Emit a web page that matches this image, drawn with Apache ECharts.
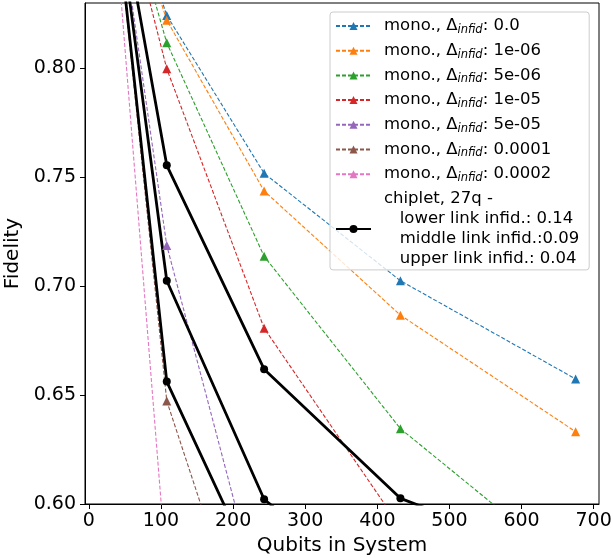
<!DOCTYPE html>
<html>
<head>
<meta charset="utf-8">
<script src="https://cdn.jsdelivr.net/npm/echarts@6/dist/echarts.min.js"></script>
<style>
html,body{margin:0;padding:0;background:#fff;}
#chart{width:613px;height:558px;}
</style>
</head>
<body>
<div id="chart"></div>
<script>
// ---- data ----
const qubits = [27, 108, 243, 432, 675];
const xTicks = [0, 100, 200, 300, 400, 500, 600, 700];
const yTicks = [0.60, 0.65, 0.70, 0.75, 0.80];
const monoLabels = ['0.0', '1e-06', '5e-06', '1e-05', '5e-05', '0.0001', '0.0002'];
const mono00     = [0.905, 0.8243, 0.7518, 0.7025, 0.6574];
const mono1e6    = [0.905, 0.8221, 0.7437, 0.6867, 0.6332];
const mono5e6    = [0.905, 0.8117, 0.7137, 0.6346, 0.569];
const mono1e5    = [0.905, 0.7998, 0.6807, 0.5894, null];
const mono5e5    = [0.905, 0.7187, 0.549, null, null];
const mono1e4    = [0.905, 0.6473, 0.5115, null, null];
const mono2e4    = [0.905, 0.568, null, null, null];
const chipletA   = [0.905, 0.7555, 0.6619, 0.6026, 0.572];
const chipletB   = [0.905, 0.7025, 0.6022, 0.5506, null];
const chipletC   = [0.905, 0.6562, 0.5602, null, null];
const chipletName = 'chiplet, 27q -\n   lower link infid.: 0.14\n   middle link infid.:0.09\n   upper link infid.: 0.04';

// ---- styles ----
const monoSeriesData = [mono00, mono1e6, mono5e6, mono1e5, mono5e5, mono1e4, mono2e4];
const monoColors = ['#1f77b4', '#ff7f0e', '#2ca02c', '#d62728', '#9467bd', '#8c564b', '#e377c2'];
const FONT = 'DejaVu Sans';

function pairs(vals) {
  return qubits.map((q, i) => [q, vals[i]]).filter(p => p[1] !== null);
}

const series = [];
monoSeriesData.forEach((vals, i) => {
  series.push({
    type: 'line',
    name: 'mono., Δinfid: ' + monoLabels[i],
    data: pairs(vals),
    symbol: 'triangle',
    symbolSize: 9,
    showAllSymbol: true,
    clip: true,
    lineStyle: { color: monoColors[i], width: 1.1, type: [4, 2] },
    itemStyle: { color: monoColors[i] },
    emphasis: { disabled: true }
  });
});
[chipletA, chipletB, chipletC].forEach(vals => {
  series.push({
    type: 'line',
    name: chipletName,
    data: pairs(vals),
    symbol: 'circle',
    symbolSize: 8,
    clip: true,
    lineStyle: { color: '#000', width: 2.8, type: 'solid' },
    itemStyle: { color: '#000' },
    emphasis: { disabled: true }
  });
});

const chart = echarts.init(document.getElementById('chart'), null, { renderer: 'canvas' });
chart.setOption({
  animation: false,
  backgroundColor: '#fff',
  textStyle: { fontFamily: FONT },
  grid: { left: 85, right: 14, top: 3, bottom: 54, containLabel: false, outerBoundsMode: 'none',
    show: true, borderColor: '#000', borderWidth: 1, backgroundColor: 'transparent' },
  xAxis: {
    type: 'value',
    min: -5.4, max: 707.4,
    name: 'Qubits in System',
    nameLocation: 'middle',
    nameGap: 29,
    nameTextStyle: { fontSize: 20, color: '#000', fontFamily: FONT },
    axisLine: { show: true, onZero: false, lineStyle: { color: '#000', width: 1 } },
    axisTick: { show: true, length: 5, inside: false, customValues: xTicks, lineStyle: { color: '#000', width: 1 } },
    axisLabel: { customValues: xTicks, fontSize: 19, color: '#000', margin: 8, fontFamily: FONT },
    splitLine: { show: false }
  },
  yAxis: {
    type: 'value',
    min: 0.60, max: 0.83,
    name: 'Fidelity',
    nameLocation: 'middle',
    nameGap: 49,
    nameTextStyle: { fontSize: 20, color: '#000', fontFamily: FONT },
    axisLine: { show: true, onZero: false, lineStyle: { color: '#000', width: 1 } },
    axisTick: { show: true, length: 5, inside: false, customValues: yTicks, lineStyle: { color: '#000', width: 1 } },
    axisLabel: { customValues: yTicks, fontSize: 19, color: '#000', margin: 9, fontFamily: FONT,
      formatter: v => v.toFixed(2) },
    splitLine: { show: false }
  },
  legend: {
    orient: 'vertical',
    left: 330,
    top: 12,
    padding: [4, 10, 1, 5],
    itemWidth: 35,
    itemHeight: 10,
    itemGap: 4.7,
    selectedMode: false,
    backgroundColor: 'rgba(255,255,255,0.8)',
    borderColor: '#cccccc',
    borderWidth: 1,
    borderRadius: 3,
    data: series.map(s => s.name).filter((n, i, a) => a.indexOf(n) === i),
    formatter: function (name) {
      if (name === chipletName) {
        return name.split('\n').map(l => '{g| }' + l).join('\n');
      }
      const lab = name.split(': ')[1];
      return '{g| }mono., Δ{sub|infid}: ' + lab;
    },
    textStyle: {
      fontSize: 16.5,
      lineHeight: 20,
      color: '#000',
      fontFamily: FONT,
      rich: {
        g: { width: 8, fontSize: 16.5, lineHeight: 20 },
        sub: { fontSize: 11.5, fontStyle: 'italic', lineHeight: 10, verticalAlign: 'bottom', color: '#000', fontFamily: FONT }
      }
    }
  },
  series: series
});
</script>
</body>
</html>
